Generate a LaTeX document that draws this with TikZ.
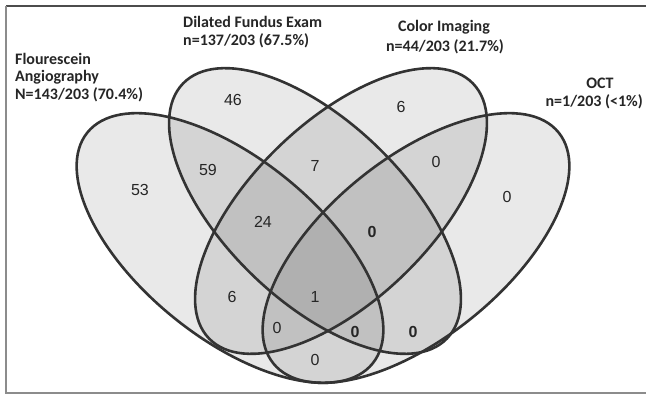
\documentclass[tikz,border=0pt]{standalone}
\usepackage{fontspec}
\setmainfont{Liberation Sans}
\newfontfamily\labfont{Carlito}
\begin{document}
\begin{tikzpicture}[x=1pt,y=-1pt,
  vennfill/.style={fill=black, fill opacity=0.085},
  venndraw/.style={line width=2.6pt, draw=black!80},
  num/.style={font=\fontsize{16}{19}\selectfont, inner sep=0pt, text=black!85},
  bnum/.style={font=\fontsize{16}{19}\selectfont\bfseries, inner sep=0pt, text=black!85},
  lab/.style={font=\labfont\bfseries\fontsize{16}{19}\selectfont, inner sep=0pt, anchor=base west, text=black!85},
  labc/.style={font=\labfont\bfseries\fontsize{16}{19}\selectfont, inner sep=0pt, anchor=base, text=black!85},
  labr/.style={font=\labfont\bfseries\fontsize{16}{19}\selectfont, inner sep=0pt, anchor=base east, text=black!85}]
\useasboundingbox (0,0) rectangle (646,395);
\fill[white] (0,0) rectangle (646,395);
% frame
\draw[black!70, line width=1.2pt] (646,6) -- (6,6);
\draw[black!45, line width=1.2pt] (6,6) -- (6,393) -- (646,393);
% ellipses: fills
\foreach \cx/\cy/\rot in {230/248/-39, 315/211/-44, 341/211/44, 416/248/39}{
  \fill[vennfill, rotate around={\rot:(\cx,\cy)}] (\cx,\cy) ellipse [x radius=183.5pt, y radius=89.5pt];
}
% ellipses: outlines
\foreach \cx/\cy/\rot in {230/248/-39, 315/211/-44, 341/211/44, 416/248/39}{
  \draw[venndraw, rotate around={\rot:(\cx,\cy)}] (\cx,\cy) ellipse [x radius=183.5pt, y radius=89.5pt];
}
% set labels
\node[lab] (fa1) at (15,65) {Flourescein};
\node[lab] (fa2) at (15,82) {Angiography};
\node[lab] (fa3) at (15,99.5) {N=143/203 (70.4\%)};
\node[lab] (dfe1) at (183,28) {Dilated Fundus Exam};
\node[lab] (dfe2) at (183,46) {n=137/203 (67.5\%)};
\node[labc] (ci1) at (444,32) {Color Imaging};
\node[labc] (ci2) at (445,52) {n=44/203 (21.7\%)};
\node[labc] (oct1) at (600,89) {OCT};
\node[labr] (oct2) at (643,107) {n=1/203 (<1\%)};
% region counts
\node[num] (r53) at (140,190) {53};
\node[num] (r46) at (233,100) {46};
\node[num] (r6a) at (401,107) {6};
\node[num] (r0oct) at (507,197) {0};
\node[num] (r59) at (208,170) {59};
\node[num] (r7) at (315,166) {7};
\node[num] (r0co) at (436,162) {0};
\node[num] (r24) at (263,222) {24};
\node[bnum] (r0dco) at (372,232) {0};
\node[num] (r6b) at (232,297) {6};
\node[num] (r1) at (315,297) {1};
\node[num] (r0fco) at (277,328) {0};
\node[bnum] (r0fdo) at (355,332) {0};
\node[bnum] (r0do) at (413,332) {0};
\node[num] (r0fo) at (315,360) {0};
\end{tikzpicture}
\end{document}
